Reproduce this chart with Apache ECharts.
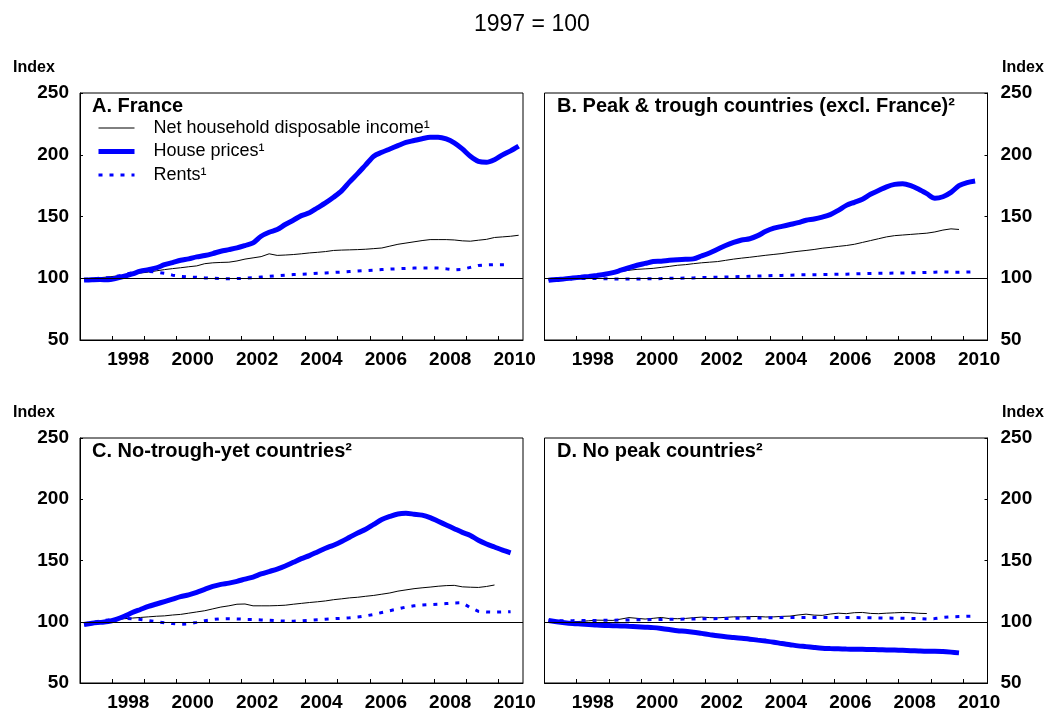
<!DOCTYPE html>
<html>
<head>
<meta charset="utf-8">
<script src="https://cdn.jsdelivr.net/npm/echarts@6/dist/echarts.min.js"></script>
<style>
  html, body { margin: 0; padding: 0; background: #fff; }
  #chart { width: 1046px; height: 712px; }
</style>
</head>
<body>
<div id="chart"></div>
<script>
// Quarterly periods, 1997Q1 onwards
const quarters = [];
for (let y = 1997; y <= 2010; y++) {
  for (let q = 1; q <= 4; q++) quarters.push(y + 'Q' + q);
}

// Axis ticks and labels
const yearTicks = [1998, 1999, 2000, 2001, 2002, 2003, 2004, 2005, 2006, 2007, 2008, 2009, 2010];
const yearLabels = ['1998', '2000', '2002', '2004', '2006', '2008', '2010'];
const indexTicks = [50, 100, 150, 200, 250];

const seriesNames = ['Net household disposable income¹', 'House prices¹', 'Rents¹'];
const panelTitles = ['A. France', 'B. Peak & trough countries (excl. France)²', 'C. No-trough-yet countries²', 'D. No peak countries²'];

// A. France
const franceIncome = [
  99.5, 100, 100.5, 101, 101.8, 102.5, 103.3, 104.2, 105, 106, 107, 107.8,
  108.5, 109.3, 110, 111.8, 112.5, 112.8, 113, 114, 115.5, 116.5, 117.5, 119.8,
  118.5, 118.8, 119.2, 119.8, 120.5, 121, 121.6, 122.5, 122.8, 123, 123.2, 123.5,
  124, 124.5, 126, 127.5, 128.5, 129.5, 130.5, 131.3, 131.3, 131.3, 131, 130.3,
  130, 130.8, 131.5, 133, 133.5, 134, 134.8
];
const franceHouse = [
  98.5, 98.8, 99, 98.7, 100, 101.6, 103.5, 105.7, 107, 108.4, 111, 112.7,
  114.6, 115.7, 117.3, 118.4, 120, 121.9, 123.2, 124.6, 126.5, 128.6, 134, 137.2,
  139.4, 143.5, 147, 150.7, 153, 157, 161, 165.6, 170.7, 178, 184.7, 191.8,
  198.8, 202, 204.7, 207.4, 210, 211.5, 213, 214.2, 214.2, 212.8, 209.6, 204.7,
  198.8, 194.7, 193.9, 196, 199.9, 203.1, 206.9
];
const franceRents = [
  99, 99.5, 100, 100.5, 101.5, 103, 104.5, 105.5, 105.5, 105, 104, 102.5,
  101.5, 101, 100.8, 100.3, 100, 99.7, 99.5, 99.7, 100, 100.5, 101, 101.5,
  102, 102.5, 103, 103.2, 103.5, 104, 104.3, 104.7, 105, 105.4, 105.8, 106.2,
  106.6, 107, 107.4, 107.7, 108, 108.2, 108.3, 108.3, 108.2, 107.6, 106.8, 107.2,
  108.8, 110.3, 110.8, 111, 111, 111
];

// B. Peak & trough countries
const peakIncome = [
  99, 99.5, 100, 100.6, 101.2, 101.8, 102.6, 103.5, 104.5, 105.5, 106.5, 107.2,
  107.6, 108, 108.8, 109.6, 110.5, 111, 111.8, 112.5, 113, 113.5, 114.5, 115.5,
  116.3, 117, 117.8, 118.6, 119.3, 120, 121, 121.8, 122.5, 123.3, 124.3, 125,
  125.8, 126.5, 127.5, 129, 130.5, 132, 133.5, 134.5, 135, 135.5, 136, 136.5,
  137.5, 139, 140, 139.5
];
const peakHouse = [
  98.3, 99, 99.5, 100.2, 100.8, 101.5, 102.3, 103.2, 104.5, 106.5, 108.5, 110.5,
  112, 113.5, 113.8, 114.5, 115, 115.3, 115.7, 118, 120.5, 123.5, 126.5, 129,
  131, 132, 134.5, 138, 140.5, 142, 143.5, 145, 147, 148, 149.5, 151.5,
  155, 159, 161.5, 164, 168, 171, 174, 176, 176.5, 175, 172, 168.5,
  164.8, 166, 169.5, 175, 177.5, 178.8
];
const peakRents = [
  99, 99.3, 99.5, 99.7, 99.8, 99.8, 99.7, 99.6, 99.5, 99.4, 99.4, 99.4,
  99.5, 99.6, 99.7, 99.9, 100, 100.2, 100.3, 100.5, 100.7, 100.8, 101, 101.2,
  101.4, 101.6, 101.8, 102, 102.2, 102.3, 102.5, 102.7, 102.8, 102.9, 103, 103.1,
  103.2, 103.3, 103.5, 103.7, 103.9, 104, 104.1, 104.2, 104.3, 104.4, 104.5, 104.7,
  104.9, 105.1, 105, 104.9, 105, 105.3
];

// C. No-trough-yet countries
const noTroughIncome = [
  99, 99.5, 100.2, 100.7, 101.5, 102.5, 103, 103.5, 104, 104.5, 104.8, 105.5,
  106, 107, 108, 109, 110.5, 112, 113, 114.3, 114.5, 113, 113, 113,
  113.2, 113.5, 114.3, 115, 115.7, 116.3, 117, 118, 118.7, 119.5, 120, 120.8,
  121.5, 122.5, 123.5, 125, 126, 127, 127.7, 128.3, 129, 129.5, 129.7, 128.5,
  128.2, 128, 128.8, 130
];
const noTroughHouse = [
  97.8, 98.8, 99.5, 100.2, 102, 104.5, 107.5, 110, 112.5, 114.5, 116.5, 118.5,
  120.5, 122, 124, 126.5, 128.8, 130.5, 131.5, 133, 134.8, 136.5, 139, 141,
  143, 145.5, 148.5, 151.5, 154, 157, 160, 162.5, 165.5, 169, 172.5, 175.5,
  179.5, 183.5, 186, 188, 188.5, 187.8, 187, 185, 182, 179, 176, 173,
  170.5, 166.5, 163.5, 161, 158.5, 156.3
];
const noTroughRents = [
  98, 99.5, 100.5, 101.5, 102.5, 102.8, 102.5, 101.8, 101, 100, 99.2, 98.5,
  98, 98.3, 99.5, 100.8, 101.8, 102.5, 102.5, 102.3, 102, 101.8, 101.5, 101.2,
  100.8, 100.5, 100.5, 100.8, 101.2, 101.6, 102, 102.5, 102.8, 103.2, 103.8, 104.8,
  106, 107.5, 109, 110.5, 112, 113, 113.6, 114, 114.3, 114.8, 115.3, 115.5,
  111.5, 108.5, 108, 107.8, 108, 108.2
];

// D. No peak countries
const noPeakIncome = [
  100.3, 100.1, 100, 100, 100.3, 100.8, 101.3, 101.2, 101.1, 102.2, 103.4, 102.8,
  102.2, 102.8, 103.5, 102.6, 102.5, 102.7, 103.3, 103.8, 103.4, 103.2, 103.6, 104,
  104, 104.2, 104.3, 103.9, 104, 104.4, 104.6, 105.5, 106.2, 105.4, 105.2, 106.3,
  107, 106.6, 107.4, 107.6, 106.8, 106.6, 107, 107.3, 107.6, 107.4, 106.9, 106.7
];
const noPeakHouse = [
  101, 100, 99.2, 98.6, 98.2, 97.8, 97.3, 97, 96.8, 96.6, 96.3, 96,
  95.6, 95.2, 94.5, 93.6, 92.6, 92.2, 91.5, 90.5, 89.5, 88.5, 87.7, 87.2,
  86.6, 85.8, 85, 84.2, 83.3, 82.2, 81.3, 80.3, 79.7, 79, 78.4, 78.1,
  77.9, 77.7, 77.6, 77.5, 77.3, 77.2, 77, 76.9, 76.7, 76.4, 76.1, 75.9,
  76, 75.7, 75.2, 74.6
];
const noPeakRents = [
  101, 100.8, 100.8, 100.9, 101, 101, 101.1, 101.2, 101.3, 101.4, 101.5, 101.6,
  101.7, 101.8, 101.9, 102, 102.1, 102.2, 102.3, 102.4, 102.5, 102.6, 102.7, 102.8,
  102.9, 103, 103.1, 103.2, 103.3, 103.4, 103.5, 103.5, 103.5, 103.5, 103.5, 103.5,
  103.5, 103.5, 103.4, 103.3, 103.2, 103.1, 103, 102.9, 102.8, 102.7, 102.6, 102.3,
  102.6, 103.5, 104, 104.3, 104.5, 104.6
];

const panels = [
  { income: franceIncome, house: franceHouse, rents: franceRents },
  { income: peakIncome, house: peakHouse, rents: peakRents },
  { income: noTroughIncome, house: noTroughHouse, rents: noTroughRents },
  { income: noPeakIncome, house: noPeakHouse, rents: noPeakRents }
];

// Place each quarter at the middle of its span on a continuous year scale
function quarterPos(label) {
  const y = parseInt(label.slice(0, 4), 10);
  const q = parseInt(label.slice(5), 10);
  return y + (q - 0.5) / 4;
}
function pairs(values) {
  return values.map((v, i) => [quarterPos(quarters[i]), v]);
}

const FONT = '"Liberation Sans", Arial, Helvetica, sans-serif';
const BLUE = '#0000ff';

const gridBoxes = [
  { left: 80, top: 93 },
  { left: 544.5, top: 93 },
  { left: 80, top: 438 },
  { left: 544.5, top: 438 }
];

const grids = gridBoxes.map(b => ({
  left: b.left, top: b.top, width: 443, height: 247,
  show: true, borderColor: '#000', borderWidth: 1, containLabel: false
}));

const xAxes = gridBoxes.map((b, i) => ({
  type: 'value', gridIndex: i, min: 1997, max: 2010.76,
  axisLine: { show: true, onZero: false, lineStyle: { color: '#000', width: 1 } },
  axisTick: { show: true, inside: true, length: 4, customValues: yearTicks, lineStyle: { color: '#000' } },
  axisLabel: {
    show: true, margin: 10, color: '#000', fontFamily: FONT, fontSize: 19, fontWeight: 'bold',
    customValues: yearLabels.map(s => Number(s) + 0.5),
    formatter: v => String(Math.floor(v))
  },
  splitLine: { show: false }
}));

const yAxes = gridBoxes.map((b, i) => ({
  type: 'value', gridIndex: i, min: 50, max: 250, interval: 50,
  position: i % 2 === 0 ? 'left' : 'right',
  axisLine: { show: true, lineStyle: { color: '#000', width: 1 } },
  axisTick: { show: true, inside: true, length: 3, lineStyle: { color: '#000' } },
  axisLabel: {
    show: true, margin: i % 2 === 0 ? 11 : 13, color: '#000', fontFamily: FONT, fontSize: 19, fontWeight: 'bold',
    customValues: indexTicks
  },
  splitLine: { show: false }
}));

const series = [];
panels.forEach((p, i) => {
  series.push({
    name: seriesNames[0], type: 'line', xAxisIndex: i, yAxisIndex: i,
    data: pairs(p.income), symbol: 'none', smooth: false,
    lineStyle: { color: '#000', width: 1 }, itemStyle: { color: '#000' },
    markLine: {
      silent: true, symbol: ['none', 'none'], label: { show: false },
      lineStyle: { color: '#000', width: 1, type: 'solid' },
      data: [{ yAxis: 100 }]
    }
  });
  series.push({
    name: seriesNames[1], type: 'line', xAxisIndex: i, yAxisIndex: i,
    data: pairs(p.house), symbol: 'none', smooth: 0.3,
    lineStyle: { color: BLUE, width: 5 }, itemStyle: { color: BLUE }
  });
  series.push({
    name: seriesNames[2], type: 'line', xAxisIndex: i, yAxisIndex: i,
    data: pairs(p.rents), symbol: 'none', smooth: false,
    lineStyle: { color: BLUE, width: 3, type: [4, 7] }, itemStyle: { color: BLUE }
  });
});

const titleStyle = { color: '#000', fontFamily: FONT, fontSize: 20, fontWeight: 'bold' };
const indexStyle = { color: '#000', fontFamily: FONT, fontSize: 16, fontWeight: 'bold' };

const titles = [
  { text: '1997 = 100', left: 474, top: 13, padding: 0,
    textStyle: { color: '#000', fontFamily: FONT, fontSize: 23, fontWeight: 'normal' } },
  { text: panelTitles[0], left: 92, top: 96, padding: 0, textStyle: titleStyle },
  { text: panelTitles[1], left: 557, top: 96, padding: 0, textStyle: titleStyle },
  { text: panelTitles[2], left: 92, top: 441, padding: 0, textStyle: titleStyle },
  { text: panelTitles[3], left: 557, top: 441, padding: 0, textStyle: titleStyle },
  { text: 'Index', left: 13, top: 60, padding: 0, textStyle: indexStyle },
  { text: 'Index', left: 1002, top: 60, padding: 0, textStyle: indexStyle },
  { text: 'Index', left: 13, top: 405, padding: 0, textStyle: indexStyle },
  { text: 'Index', left: 1002, top: 405, padding: 0, textStyle: indexStyle }
];

// Legend keys show only the line, no marker
const noMarker = { opacity: 0, borderWidth: 0 };

const chart = echarts.init(document.getElementById('chart'), null, { renderer: 'canvas' });
chart.setOption({
  animation: false,
  backgroundColor: '#fff',
  title: titles,
  legend: {
    left: 96, top: 119, padding: 0, orient: 'vertical',
    itemWidth: 36, itemHeight: 18, itemGap: 5.5, selectedMode: false,
    textStyle: { color: '#000', fontFamily: FONT, fontSize: 18, padding: [0, 0, 0, 14] },
    data: [
      { name: seriesNames[0], itemStyle: noMarker, lineStyle: { width: 1, color: '#000' } },
      { name: seriesNames[1], itemStyle: noMarker, lineStyle: { width: 5, color: BLUE } },
      { name: seriesNames[2], itemStyle: noMarker, lineStyle: { width: 3, color: BLUE, type: [4, 7] } }
    ]
  },
  grid: grids,
  xAxis: xAxes,
  yAxis: yAxes,
  series: series
});
</script>
</body>
</html>
